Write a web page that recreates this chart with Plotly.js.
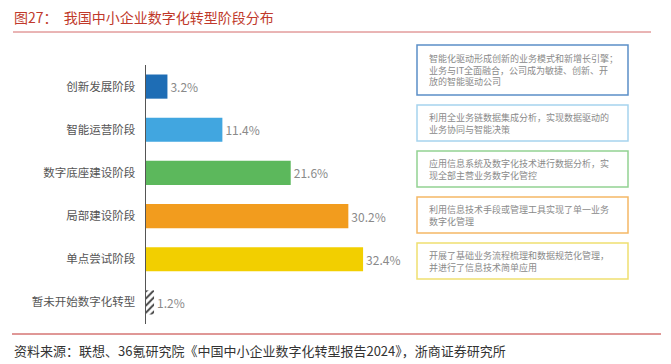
<!DOCTYPE html>
<html>
<head>
<meta charset="utf-8">
<script src="https://cdn.plot.ly/plotly-3.0.1.min.js"></script>
<style>
html,body{margin:0;padding:0;background:#fff;}
#chart{width:671px;height:364px;}
</style>
</head>
<body>
<div id="chart"></div>
<script>
// ---- data ----
const categories = ['创新发展阶段', '智能运营阶段', '数字底座建设阶段', '局部建设阶段', '单点尝试阶段', '暂未开始数字化转型'];
const values = [3.2, 11.4, 21.6, 30.2, 32.4, 1.2];
const barColors = ['#1e6db5', '#41a6e0', '#5cb85c', '#f29c1e', '#f2cf00', '#ffffff'];
const hatched = [false, false, false, false, false, true];
const descriptions = [
  '智能化驱动形成创新的业务模式和新增长引擎；<br>业务与IT全面融合，公司成为敏捷、创新、开<br>放的智能驱动公司',
  '利用全业务链数据集成分析，实现数据驱动的<br>业务协同与智能决策',
  '应用信息系统及数字化技术进行数据分析，实<br>现全部主营业务数字化管控',
  '利用信息技术手段或管理工具实现了单一业务<br>数字化管理',
  '开展了基础业务流程梳理和数据规范化管理，<br>并进行了信息技术简单应用'
];
const boxColors = ['#5b8fc7', '#a6d4ee', '#93d293', '#f5b865', '#f0e070'];
const titleText = '图27：  我国中小企业数字化转型阶段分布';
const sourceText = '资料来源：联想、36氪研究院《中国中小企业数字化转型报告2024》，浙商证券研究所';

// ---- layout helpers ----
const W = 671, H = 364;
const M = {l: 146, r: 275, t: 65, b: 40};
const PW = W - M.l - M.r, PH = H - M.t - M.b;
const px = x => (x - M.l) / PW;
const py = y => (H - M.b - y) / PH;
const cjk = '"Noto Sans CJK SC", "Noto Sans", sans-serif';

const boxes = [[45, 95], [105, 141], [151, 187], [197, 233], [243, 279]];
const shapes = [];
const annotations = [];

boxes.forEach((b, i) => {
  shapes.push({type: 'rect', xref: 'paper', yref: 'paper',
    x0: px(417), x1: px(628), y0: py(b[1]), y1: py(b[0]),
    line: {color: boxColors[i], width: 1.5}, fillcolor: 'rgba(0,0,0,0)'});
  annotations.push({xref: 'paper', yref: 'paper', x: px(427), y: py((b[0] + b[1]) / 2),
    xanchor: 'left', yanchor: 'middle', align: 'left', showarrow: false,
    text: descriptions[i], font: {family: cjk, size: 9, color: '#8a8a8a'}});
});

// title + lines
annotations.push({xref: 'paper', yref: 'paper', x: px(12), y: py(17), xanchor: 'left', yanchor: 'middle',
  showarrow: false, text: titleText, font: {family: cjk, size: 14, color: '#c0392b'}});
shapes.push({type: 'line', xref: 'paper', yref: 'paper', x0: px(13), x1: px(651), y0: py(32), y1: py(32),
  line: {color: '#d46a6a', width: 1}});
shapes.push({type: 'line', xref: 'paper', yref: 'paper', x0: px(12), x1: px(661), y0: py(334), y1: py(334),
  line: {color: '#c0302f', width: 1}});
annotations.push({xref: 'paper', yref: 'paper', x: px(12), y: py(350), xanchor: 'left', yanchor: 'middle',
  showarrow: false, text: sourceText, font: {family: cjk, size: 13, color: '#333'}});

const solidIdx = values.map((v, i) => i).filter(i => !hatched[i]);
const hatchIdx = values.map((v, i) => i).filter(i => hatched[i]);

const common = {
  type: 'bar', orientation: 'h', width: 0.56,
  textposition: 'outside',
  textfont: {family: cjk, size: 12, color: '#8a8a8a'},
  cliponaxis: false, hoverinfo: 'none'
};

const solidTrace = Object.assign({}, common, {
  y: solidIdx.map(i => categories[i]), x: solidIdx.map(i => values[i]),
  marker: {color: solidIdx.map(i => barColors[i]), line: {width: 0}},
  text: solidIdx.map(i => values[i].toFixed(1) + '%')
});

const hatchTrace = Object.assign({}, common, {
  y: hatchIdx.map(i => categories[i]), x: hatchIdx.map(i => values[i]),
  marker: {color: '#ffffff', line: {width: 0},
    pattern: {shape: '/', fgcolor: '#444444', bgcolor: '#ffffff', size: 5, solidity: 0.4, fillmode: 'replace'}},
  text: hatchIdx.map(i => values[i].toFixed(1) + '%')
});

const layout = {
  width: W, height: H,
  margin: M,
  paper_bgcolor: '#fff', plot_bgcolor: '#fff',
  showlegend: false,
  barmode: 'overlay',
  xaxis: {range: [0, PW / 6.7], visible: false, fixedrange: true},
  yaxis: {type: 'category', categoryorder: 'array', categoryarray: categories, autorange: 'reversed',
    showline: true, linecolor: '#555', linewidth: 1.5,
    ticks: '', showgrid: false, zeroline: false, ticklabelstandoff: 7,
    tickfont: {family: cjk, size: 11.5, color: '#555'}},
  shapes: shapes,
  annotations: annotations,
  font: {family: cjk}
};

Plotly.newPlot('chart', [solidTrace, hatchTrace], layout, {staticPlot: true, displayModeBar: false});
</script>
</body>
</html>
